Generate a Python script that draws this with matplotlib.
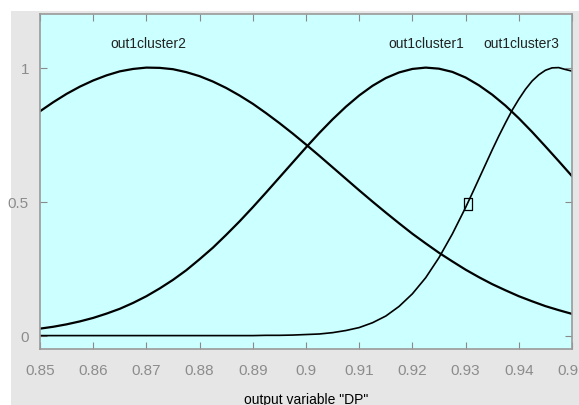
import matplotlib
matplotlib.use("Agg")
import matplotlib.pyplot as plt
from matplotlib.patches import Rectangle

# ---- data ----
x = [0.850, 0.8525, 0.855, 0.8575, 0.860, 0.8625, 0.865, 0.8675, 0.870, 0.8725,
     0.875, 0.8775, 0.880, 0.8825, 0.885, 0.8875, 0.890, 0.8925, 0.895, 0.8975,
     0.900, 0.9025, 0.905, 0.9075, 0.910, 0.9125, 0.915, 0.9175, 0.920, 0.9225,
     0.925, 0.9275, 0.930, 0.9325, 0.935, 0.9375, 0.940, 0.9425, 0.945, 0.9475,
     0.950]

out1cluster2 = [0.837, 0.871, 0.902, 0.929, 0.952, 0.971, 0.986, 0.995, 1.000, 0.999,
                0.994, 0.983, 0.968, 0.948, 0.924, 0.896, 0.865, 0.830, 0.793, 0.754,
                0.713, 0.671, 0.628, 0.585, 0.542, 0.500, 0.459, 0.419, 0.380, 0.344,
                0.309, 0.277, 0.246, 0.218, 0.192, 0.169, 0.147, 0.128, 0.110, 0.095,
                0.081]

out1cluster1 = [0.026, 0.033, 0.042, 0.053, 0.066, 0.082, 0.100, 0.122, 0.147, 0.176,
                0.208, 0.244, 0.285, 0.328, 0.376, 0.426, 0.479, 0.534, 0.590, 0.646,
                0.702, 0.756, 0.807, 0.854, 0.896, 0.932, 0.961, 0.982, 0.995, 1.000,
                0.996, 0.984, 0.963, 0.934, 0.899, 0.858, 0.811, 0.760, 0.706, 0.651,
                0.595]

x3 = [0.850, 0.8525, 0.855, 0.8575, 0.860, 0.8625, 0.865, 0.8675, 0.870, 0.8725,
      0.875, 0.8775, 0.880, 0.8825, 0.885, 0.8875, 0.890, 0.8925, 0.895, 0.8975,
      0.900, 0.9025, 0.905, 0.9075, 0.910, 0.9125, 0.915, 0.9175, 0.920, 0.9225,
      0.925, 0.9275, 0.930, 0.93125, 0.9325, 0.93375, 0.935, 0.93625, 0.9375,
      0.93875, 0.940, 0.94125, 0.9425, 0.94375, 0.945, 0.94625, 0.9475, 0.94875,
      0.950]
out1cluster3 = [0.000, 0.000, 0.000, 0.000, 0.000, 0.000, 0.000, 0.000, 0.000, 0.000,
                0.000, 0.000, 0.000, 0.000, 0.000, 0.000, 0.000, 0.001, 0.001, 0.002,
                0.004, 0.006, 0.011, 0.019, 0.030, 0.048, 0.073, 0.109, 0.156, 0.216,
                0.291, 0.379, 0.478, 0.531, 0.585, 0.639, 0.693, 0.745, 0.794,
                0.841, 0.882, 0.919, 0.950, 0.973, 0.990, 0.999, 1.000, 0.993,
                0.987]

labels = ["out1cluster2", "out1cluster1", "out1cluster3"]
label_x = [0.8704, 0.9226, 0.9405]
label_y = [1.09, 1.09, 1.09]

marker_x = [0.9305]
marker_y = [0.49]

x_ticks = [0.85, 0.86, 0.87, 0.88, 0.89, 0.90, 0.91, 0.92, 0.93, 0.94, 0.95]
x_ticklabels = ["0.85", "0.86", "0.87", "0.88", "0.89", "0.9", "0.91", "0.92", "0.93", "0.94", "0.95"]
y_ticks = [0, 0.5, 1]
y_ticklabels = ["0", "0.5", "1"]
xlabel = 'output variable "DP"'

# ---- styling ----
FONT = ["Liberation Sans Narrow", "Liberation Sans", "DejaVu Sans"]
plt.rcParams["font.family"] = FONT

W, H = 579, 406
fig = plt.figure(figsize=(W / 100, H / 100), dpi=100, facecolor="white")
bg = Rectangle((11 / W, 0), 1 - 11 / W, 1 - 12 / H,
               transform=fig.transFigure, facecolor="#e6e6e6",
               edgecolor="none", zorder=-10)
fig.patches.append(bg)

ax = fig.add_axes([40 / W, 1 - 350 / H, (572 - 40) / W, (350 - 15) / H])
ax.set_zorder(5)
ax.set_facecolor("#ccffff")

ax.plot(x, out1cluster2, color="black", lw=1.6)
ax.plot(x, out1cluster1, color="black", lw=1.6)
ax.plot(x3, out1cluster3, color="black", lw=1.2)

verts = [(-0.58, -1), (0.58, -1), (0.58, 1), (-0.58, 1), (-0.58, -1)]
ax.plot(marker_x, marker_y, linestyle="none", marker=verts, markersize=9,
        markerfacecolor="none", markeredgecolor="black", markeredgewidth=0.9)

for t, tx, ty in zip(labels, label_x, label_y):
    ax.text(tx, ty, t, ha="center", va="center", fontsize=10, color="#222222")

ax.set_xlim(0.85, 0.95)
ax.set_ylim(-0.05, 1.2)
ax.set_xticks(x_ticks)
ax.set_xticklabels(x_ticklabels)
ax.set_yticks(y_ticks)
ax.set_yticklabels(y_ticklabels)
ax.tick_params(direction="in", length=5, width=0.8, color="#8a8a8a",
               labelcolor="#8c8c8c", labelsize=11, top=True, right=True,
               pad=8)
ax.tick_params(axis="x", pad=10)
for s in ax.spines.values():
    s.set_color("#9a9a9a")
    s.set_linewidth(1.2)

fig.text(306 / W, 1 - 400 / H, xlabel, ha="center", va="center",
         fontsize=10, color="black")

fig.savefig("out.png", dpi=100, facecolor=fig.get_facecolor())
